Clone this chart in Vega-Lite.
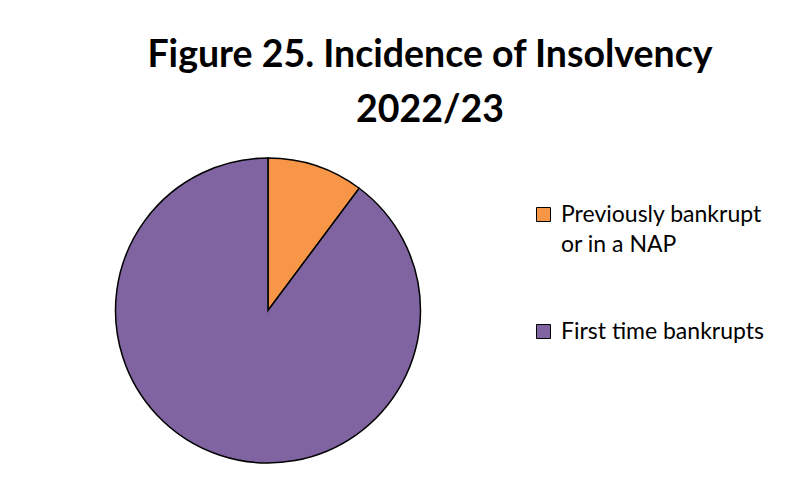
{
  "$schema": "https://vega.github.io/schema/vega-lite/v6.json",
  "autosize": "none",
  "padding": {"left": 6, "top": 158, "right": 270, "bottom": 17},
  "width": 524,
  "height": 305,
  "background": "white",
  "config": {
    "view": {"stroke": null},
    "style": {"guide-label": {"lineHeight": 30}}
  },
  "title": {
    "text": ["Figure 25. Incidence of Insolvency", "2022/23"],
    "font": "Lato",
    "fontSize": 37.5,
    "fontWeight": "bold",
    "color": "black",
    "lineHeight": 55,
    "anchor": "middle",
    "frame": "group",
    "dx": 162,
    "offset": 26
  },
  "data": {
    "values": [
      {"category": "Previously bankrupt or in a NAP", "share": 10.2},
      {"category": "First time bankrupts", "share": 89.8}
    ]
  },
  "mark": {"type": "arc", "stroke": "black", "strokeWidth": 1.5},
  "encoding": {
    "theta": {"field": "share", "type": "quantitative", "stack": true},
    "order": {"field": "category", "sort": "descending"},
    "color": {
      "field": "category",
      "type": "nominal",
      "scale": {
        "domain": ["Previously bankrupt or in a NAP", "First time bankrupts"],
        "range": ["#F79646", "#8064A2"]
      },
      "legend": {
        "title": null,
        "orient": "none",
        "legendX": 526,
        "legendY": 45,
        "padding": 0,
        "symbolType": "square",
        "symbolSize": 196,
        "symbolStrokeColor": "black",
        "symbolStrokeWidth": 1,
        "symbolOpacity": 1,
        "labelFont": "Lato",
        "labelFontSize": 23,
        "labelColor": "black",
        "labelLimit": 400,
        "labelOffset": 6,
        "labelExpr": "datum.label == 'Previously bankrupt or in a NAP' ? ['Previously bankrupt', 'or in a NAP'] : datum.label",
        "rowPadding": 63
      }
    }
  }
}
